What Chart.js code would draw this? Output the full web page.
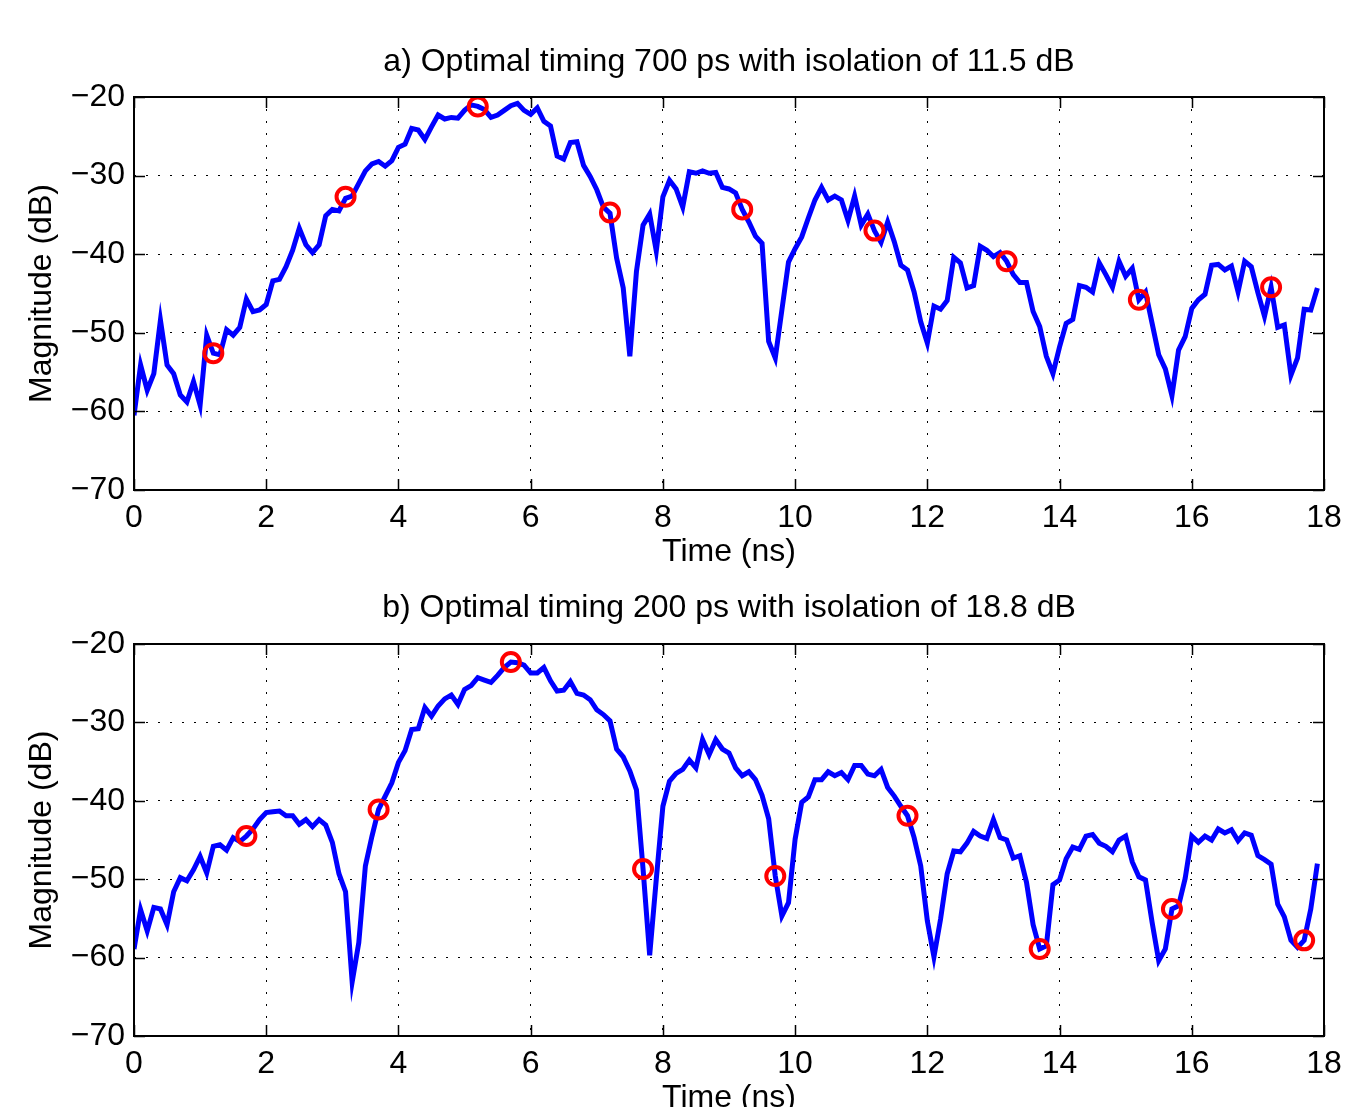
<!DOCTYPE html>
<html>
<head>
<meta charset="utf-8">
<script src="https://cdn.jsdelivr.net/npm/chart.js@4.4.1/dist/chart.umd.min.js"></script>
<style>
	html, body { margin: 0; padding: 0; background: #fff; }
	#wrap { position: relative; width: 1354px; height: 1107px; overflow: hidden; }
	canvas { position: absolute; left: 0; }
	#chart-a { top: 0; }
	#chart-b { top: 580px; }
</style>
</head>
<body>
<div id="wrap">
	<canvas id="chart-a" width="1354" height="580"></canvas>
	<canvas id="chart-b" width="1354" height="546"></canvas>
</div>
<script>
// sample times (ns)
const timeNs = [
	0.0, 0.1, 0.2, 0.3, 0.4, 0.5, 0.6, 0.7, 0.8, 0.9, 1.0, 1.1, 1.2, 1.3, 1.4, 1.5, 1.6, 1.7, 1.8, 1.9,
	2.0, 2.1, 2.2, 2.3, 2.4, 2.5, 2.6, 2.7, 2.8, 2.9, 3.0, 3.1, 3.2, 3.3, 3.4, 3.5, 3.6, 3.7, 3.8, 3.9,
	4.0, 4.1, 4.2, 4.3, 4.4, 4.5, 4.6, 4.7, 4.8, 4.9, 5.0, 5.1, 5.2, 5.3, 5.4, 5.5, 5.6, 5.7, 5.8, 5.9,
	6.0, 6.1, 6.2, 6.3, 6.4, 6.5, 6.6, 6.7, 6.8, 6.9, 7.0, 7.1, 7.2, 7.3, 7.4, 7.5, 7.6, 7.7, 7.8, 7.9,
	8.0, 8.1, 8.2, 8.3, 8.4, 8.5, 8.6, 8.7, 8.8, 8.9, 9.0, 9.1, 9.2, 9.3, 9.4, 9.5, 9.6, 9.7, 9.8, 9.9,
	10.0, 10.1, 10.2, 10.3, 10.4, 10.5, 10.6, 10.7, 10.8, 10.9, 11.0, 11.1, 11.2, 11.3, 11.4, 11.5, 11.6, 11.7, 11.8, 11.9,
	12.0, 12.1, 12.2, 12.3, 12.4, 12.5, 12.6, 12.7, 12.8, 12.9, 13.0, 13.1, 13.2, 13.3, 13.4, 13.5, 13.6, 13.7, 13.8, 13.9,
	14.0, 14.1, 14.2, 14.3, 14.4, 14.5, 14.6, 14.7, 14.8, 14.9, 15.0, 15.1, 15.2, 15.3, 15.4, 15.5, 15.6, 15.7, 15.8, 15.9,
	16.0, 16.1, 16.2, 16.3, 16.4, 16.5, 16.6, 16.7, 16.8, 16.9, 17.0, 17.1, 17.2, 17.3, 17.4, 17.5, 17.6, 17.7, 17.8, 17.9,
];

// a) 700 ps timing
const magnitudeA = [
	-60.5, -54.1, -57.3, -55.2, -48.4, -54.1, -55.2, -57.9, -58.8, -56.2, -59.2, -50.3, -52.6, -52.8, -49.6, -50.3, -49.3, -45.7, -47.3, -47.1,
	-46.4, -43.4, -43.2, -41.6, -39.5, -36.7, -38.8, -39.8, -38.8, -35.1, -34.3, -34.5, -32.9, -32.6, -31.0, -29.4, -28.5, -28.2, -28.8, -28.1,
	-26.4, -26.0, -24.0, -24.2, -25.4, -23.8, -22.3, -22.8, -22.6, -22.7, -21.7, -21.0, -21.2, -21.6, -22.6, -22.3, -21.7, -21.1, -20.8, -21.7,
	-22.2, -21.4, -23.1, -23.7, -27.5, -27.9, -25.8, -25.7, -28.7, -30.1, -31.8, -34.0, -34.8, -40.5, -44.3, -53.0, -42.2, -36.3, -34.9, -39.6,
	-32.7, -30.6, -31.7, -34.0, -29.5, -29.7, -29.4, -29.7, -29.6, -31.5, -31.7, -32.2, -34.3, -35.9, -37.7, -38.6, -51.1, -53.2, -47.1, -41.0,
	-39.3, -37.8, -35.4, -33.1, -31.5, -33.1, -32.6, -33.1, -35.7, -32.6, -36.3, -34.9, -37.0, -38.5, -35.9, -38.4, -41.4, -42.0, -44.8, -48.6,
	-51.3, -46.6, -47.0, -45.9, -40.4, -41.1, -44.3, -44.0, -39.0, -39.5, -40.3, -39.8, -40.9, -42.6, -43.6, -43.6, -47.3, -49.2, -53.0, -55.2,
	-51.8, -48.8, -48.3, -44.0, -44.2, -44.8, -41.1, -42.6, -44.2, -40.9, -42.8, -41.8, -45.8, -44.8, -48.8, -52.8, -54.6, -58.0, -52.2, -50.5,
	-46.9, -45.8, -45.1, -41.4, -41.3, -42.0, -41.5, -44.8, -40.9, -41.6, -44.9, -47.9, -44.2, -49.3, -49.0, -55.4, -53.2, -47.0, -47.1, -44.3,
];

// b) 200 ps timing
const magnitudeB = [
	-58.9, -53.9, -56.6, -53.6, -53.8, -55.8, -51.6, -49.8, -50.2, -48.8, -47.1, -49.2, -45.8, -45.6, -46.3, -44.7, -45.2, -44.5, -43.6, -42.4,
	-41.5, -41.4, -41.3, -41.9, -41.9, -43.0, -42.4, -43.3, -42.4, -43.1, -45.3, -49.3, -51.6, -63.1, -58.1, -48.3, -44.5, -41.1, -39.4, -37.7,
	-35.1, -33.6, -30.9, -30.8, -28.1, -29.2, -27.9, -27.0, -26.5, -27.7, -25.8, -25.3, -24.3, -24.6, -24.9, -24.0, -23.0, -22.3, -22.4, -22.7,
	-23.7, -23.7, -23.0, -24.7, -26.0, -25.9, -24.8, -26.3, -26.5, -27.1, -28.4, -29.0, -29.8, -33.4, -34.4, -36.2, -38.6, -48.7, -59.7, -50.0,
	-40.7, -37.5, -36.5, -36.0, -34.8, -35.8, -32.2, -34.1, -32.2, -33.4, -33.9, -35.8, -36.8, -36.3, -37.3, -39.3, -42.3, -49.6, -54.7, -53.0,
	-44.9, -40.2, -39.5, -37.3, -37.3, -36.3, -36.8, -36.4, -37.3, -35.5, -35.5, -36.6, -36.8, -36.0, -38.3, -39.4, -40.7, -41.9, -44.7, -48.3,
	-55.3, -59.9, -55.1, -49.3, -46.4, -46.5, -45.4, -43.9, -44.5, -44.8, -42.4, -44.7, -45.0, -47.3, -47.0, -50.4, -55.8, -58.9, -58.5, -50.7,
	-50.1, -47.4, -45.9, -46.2, -44.5, -44.3, -45.4, -45.8, -46.5, -45.0, -44.5, -47.8, -49.7, -50.1, -55.5, -60.4, -58.9, -53.8, -53.4, -49.9,
	-44.5, -45.3, -44.5, -45.0, -43.6, -44.1, -43.7, -45.1, -44.1, -44.4, -47.0, -47.5, -48.1, -53.2, -54.8, -57.8, -58.7, -57.8, -53.8, -48.0,
];

// sampling instants (red circles)
const markerTimeA = [1.2, 3.2, 5.2, 7.2, 9.2, 11.2, 13.2, 15.2, 17.2];
const markerMagA = [-52.6, -32.7, -21.2, -34.7, -34.3, -37.0, -40.9, -45.8, -44.2];
const markerTimeB = [1.7, 3.7, 5.7, 7.7, 9.7, 11.7, 13.7, 15.7, 17.7];
const markerMagB = [-44.5, -41.1, -22.3, -48.7, -49.6, -41.9, -58.9, -53.8, -57.8];

const titleA = "a) Optimal timing 700 ps with isolation of 11.5 dB";
const titleB = "b) Optimal timing 200 ps with isolation of 18.8 dB";

Chart.defaults.font.family = '"Liberation Sans", Arial, Helvetica, sans-serif';
Chart.defaults.color = "#000";

const FONT_SIZE = 32;
const TICK_LEN = 11;

// matlab style box with inward ticks on all four sides
const boxPlugin = {
	id: "matlabBox",
	afterDraw(chart) {
		let { ctx, chartArea, scales } = chart;
		let { left, top, right, bottom } = chartArea;
		ctx.save();
		ctx.strokeStyle = "#000";
		ctx.lineWidth = 1.5;
		ctx.beginPath();
		scales.x.ticks.forEach((t) => {
			let px = Math.round(scales.x.getPixelForValue(t.value)) + 0.5;
			ctx.moveTo(px, bottom);
			ctx.lineTo(px, bottom - TICK_LEN);
			ctx.moveTo(px, top);
			ctx.lineTo(px, top + TICK_LEN);
		});
		scales.y.ticks.forEach((t) => {
			let py = Math.round(scales.y.getPixelForValue(t.value)) + 0.5;
			ctx.moveTo(left, py);
			ctx.lineTo(left + TICK_LEN, py);
			ctx.moveTo(right, py);
			ctx.lineTo(right - TICK_LEN, py);
		});
		ctx.stroke();
		ctx.lineWidth = 2;
		ctx.strokeRect(left, top, right - left, bottom - top);
		ctx.restore();
	},
};

function buildChart(id, title, magnitude, markerTime, markerMag, topPad, titleGap) {
	let lineData = timeNs.map((t, i) => ({ x: t, y: magnitude[i] }));
	let markerData = markerTime.map((t, i) => ({ x: t, y: markerMag[i] }));

	return new Chart(document.getElementById(id), {
		type: "scatter",
		data: {
			datasets: [
				{
					label: "sampling",
					data: markerData,
					showLine: false,
					pointRadius: 9,
					pointBorderWidth: 4,
					pointBorderColor: "#ff0000",
					pointBackgroundColor: "rgba(0,0,0,0)",
					order: 0,
				},
				{
					label: "magnitude",
					data: lineData,
					showLine: true,
					borderColor: "#0000ff",
					borderWidth: 5,
					pointRadius: 0,
					tension: 0,
					order: 1,
				},
			],
		},
		options: {
			responsive: false,
			animation: false,
			events: [],
			layout: { padding: { top: topPad, left: 0, right: 30, bottom: 0 } },
			scales: {
				x: {
					type: "linear",
					min: 0,
					max: 18,
					ticks: {
						stepSize: 2,
						padding: 9,
						font: { size: FONT_SIZE },
						color: "#000",
					},
					grid: { color: "#000", lineWidth: 1, drawTicks: false },
					border: { display: false, dash: [2, 10] },
					title: {
						display: true,
						text: "Time (ns)",
						font: { size: FONT_SIZE },
						color: "#000",
						padding: { top: 0, bottom: 9 },
					},
					afterFit: (scale) => {
						scale.height = 90;
					},
				},
				y: {
					min: -70,
					max: -20,
					ticks: {
						stepSize: 10,
						padding: 9,
						font: { size: FONT_SIZE },
						color: "#000",
						callback: (v) => (v < 0 ? "\u2212" + Math.abs(v) : String(v)),
					},
					grid: { color: "#000", lineWidth: 1, drawTicks: false },
					border: { display: false, dash: [2, 10] },
					title: {
						display: true,
						text: "Magnitude (dB)",
						font: { size: FONT_SIZE },
						color: "#000",
						padding: { top: 23, bottom: 0 },
					},
					afterFit: (scale) => {
						scale.width = 134;
					},
				},
			},
			plugins: {
				legend: { display: false },
				tooltip: { enabled: false },
				title: {
					display: true,
					text: title,
					fullSize: false,
					color: "#000",
					font: { size: FONT_SIZE, weight: "normal" },
					padding: { top: 0, bottom: titleGap },
				},
			},
		},
		plugins: [boxPlugin],
	});
}

buildChart("chart-a", titleA, magnitudeA, markerTimeA, markerMagA, 43, 15.6);
buildChart("chart-b", titleB, magnitudeB, markerTimeB, markerMagB, 9, 16.6);
</script>
</body>
</html>
